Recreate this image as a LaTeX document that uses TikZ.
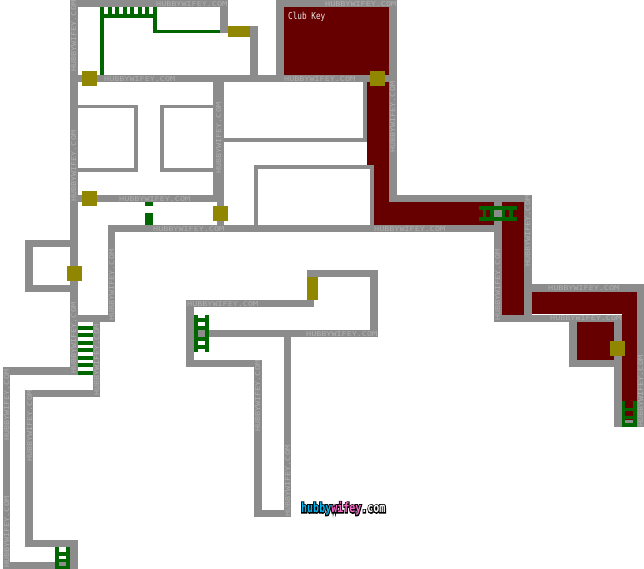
\documentclass[tikz,border=0pt]{standalone}
\usepackage{fontspec}
\setmainfont{DejaVu Sans Mono}
\definecolor{wallc}{HTML}{8C8C8C}
\definecolor{redc}{HTML}{660000}
\definecolor{doorc}{HTML}{918600}
\definecolor{lad}{HTML}{006600}
\definecolor{wmc}{HTML}{B0B0B0}
\definecolor{cy}{HTML}{00B4F0}
\definecolor{pk}{HTML}{F868C8}
\newcommand{\wmtext}{\resizebox{71pt}{5pt}{HUBBYWIFEY.COM}}
\newcommand{\rects}[2]{\foreach \a/\b/\c/\d in {#2} {\fill[#1] (\a,\b) rectangle (\c,\d);}}
\tikzset{
  wm/.style={inner sep=0pt,text=wmc,anchor=north west},
  wmv/.style={inner sep=0pt,text=wmc,rotate=90,anchor=north west},
  logo/.style={inner sep=0pt,anchor=base west,font=\bfseries\fontsize{10}{12}\selectfont}
}
\begin{document}
\begin{tikzpicture}[x=1pt,y=-1pt]
\useasboundingbox (0,0) rectangle (644,569);
\fill[white] (0,0) rectangle (644,569);
% red floors
\rects{redc}{284/7/389/75,367/82/389/165,374/165/389/225,374/202/494/225,502/202/524/315,532/292/637/314,622/314/637/427,577/322/614/360}
% walls
\rects{wallc}{70/0/228/7,70/0/78/375,220/0/228/33,250/26/258/82,70/75/397/82,276/0/284/82,276/0/397/7,389/0/397/202,
213/82/224/202,217/202/224/232,
78/105/138/108,134/105/138/172,78/168/138/172,160/105/213/108,160/105/164/172,160/168/213/172,
78/195/213/202,108/225/502/232,108/225/115/322,
224/138/367/142,363/82/367/142,254/165/258/225,254/165/374/169,370/165/374/225,
389/195/532/202,524/195/532/322,494/202/502/322,
494/315/622/322,524/284/644/292,637/284/644/427,614/315/622/427,569/315/577/367,569/360/622/367,
25/240/70/247,25/240/33/292,25/285/70/292,
78/315/115/322,93/322/100/397,25/390/100/397,25/390/33/547,3/367/78/375,3/367/10/569,25/540/78/547,70/540/78/569,3/562/70/569,
186/300/314/307,307/270/378/277,370/270/378/337,186/300/194/367,194/330/378/337,186/360/262/367,254/360/262/517,284/337/291/517,254/510/291/517,625/420/633/423}
% watermarks
\foreach \x/\y in {156/1,104/76,325/1,284/76,119/196,153/226,374/226,548/285,550/315,187/301,306/331}
  \node[wm] (w\x) at (\x,\y) {\wmtext};
\foreach \x/\y in {71/72,71/202,216/174,390/153,525/267,495/321,638/427,71/374,94/396,109/321,4/568,4/441,27/462,255/432,285/517}
  \node[wmv] (v\x\y) at (\x,\y) {\wmtext};
% doors
\rects{doorc}{228/26/250/37,82/71/97/86,370/71/385/86,82/191/97/206,213/206/228/221,67/266/82/281,307/277/318/300,610/341/625/356}
% green lines and ladders
\rects{lad}{100/7/104/75,100/14/157/18,153/7/157/33,153/30/220/33,
108/7/112/14,115/7/119/14,123/7/127/14,130/7/134/14,138/7/142/14,145/7/149/14,
145/202/153/206,145/213/153/225,
479/206/517/210,479/217/517/221,483/210/486/217,490/210/494/217,502/210/505/217,509/210/513/217,
622/401/625/427,633/401/637/427,622/408/637/411,622/416/637/419,622/423/637/427,
194/315/198/352,205/315/209/352,194/318/209/322,194/326/209/330,194/337/209/341,194/345/209/349,
78/326/93/330,78/333/93/337,78/341/93/345,78/348/93/352,78/356/93/360,78/363/93/367,78/371/93/375,
55/547/59/569,66/547/70/569,55/552/70/556,55/559/70/562,55/566/70/569}
% label
\node[inner sep=0pt,anchor=base west,text=white!92!black,font=\fontsize{7.7}{10}\selectfont] (key) at (288,19.5) {\scalebox{1}[1.25]{Club Key}};
% logo
\node[logo,text=black] (halo) at (301,512.5) {\special{pdf:literal q 2 Tr 1.8 w 0 0 0 RG}\scalebox{1}[1.3]{hubbywifey.com}\special{pdf:literal Q}};
\node[logo] (brand) at (301,512.5) {\scalebox{1}[1.3]{\textcolor{cy}{hubby}\textcolor{pk}{wifey}\textcolor{white}{.com}}};
\end{tikzpicture}
\end{document}
